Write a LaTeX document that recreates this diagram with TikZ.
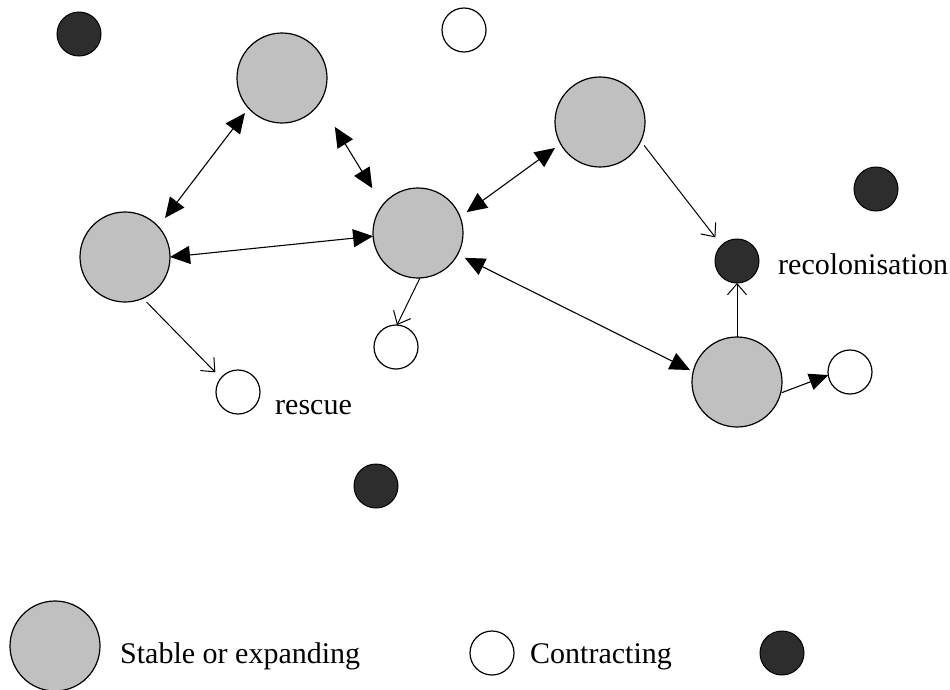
\documentclass[tikz,border=0pt]{standalone}
\usepackage{fontspec}
\setmainfont{Liberation Serif}
\usetikzlibrary{arrows.meta,calc}
\definecolor{popgray}{RGB}{192,192,192}
\definecolor{popdark}{RGB}{45,45,45}
\begin{document}
\begin{tikzpicture}[x=1pt,y=-1pt,
  big/.style={circle,draw=black,line width=1.2pt,fill=popgray,minimum size=90pt,inner sep=0pt},
  small/.style={circle,draw=black,line width=1.2pt,fill=white,minimum size=44pt,inner sep=0pt},
  dark/.style={circle,draw=black,line width=1pt,fill=popdark,minimum size=44pt,inner sep=0pt},
  label/.style={font=\fontsize{30}{33}\selectfont,inner sep=0pt,anchor=base west},
  link/.style={line width=1.1pt,{Triangle[length=20pt,width=18pt]}-{Triangle[length=20pt,width=18pt]}},
  move/.style={line width=1pt,-{Straight Barb[length=11pt,width=19pt,line width=1pt]}},
  push/.style={line width=1.1pt,-{Triangle[length=19pt,width=17pt]}}]
\useasboundingbox (0,0) rectangle (950,689);

% stable or expanding populations
\node[big] (G1) at (282,78) {};
\node[big] (G2) at (125,257) {};
\node[big] (G3) at (418,233) {};
\node[big] (G4) at (600,122) {};
\node[big] (G5) at (737,382) {};

% contracting populations
\node[small] (W1) at (464,30) {};
\node[small] (W2) at (396,347) {};
\node[small] (W3) at (238,392) {};
\node[small] (W4) at (850,372) {};

% empty patches
\node[dark] (D1) at (79,34) {};
\node[dark] (D2) at (876,189) {};
\node[dark] (D3) at (737,261) {};
\node[dark] (D4) at (376,486) {};

% labels
\node[label] (rec) at (778,274) {recolonisation};
\node[label] (res) at (275,414) {rescue};

% dispersal between stable populations
\draw[link] ($(G2)+(-44.3:56)$) -- ($(G1)+(136.6:51)$);
\draw[link] ($(G1)+(42.8:72)$) -- ($(G3)+(-135.6:64)$);
\draw[link] ($(G2)+(0:45)$) -- ($(G3)+(176:45)$);
\draw[link] ($(G3)+(-23.2:53)$) -- ($(G4)+(150:52)$);
\draw[link] ($(G3)+(28:53)$) -- ($(G5)+(-165.7:48.5)$);

% rescue and recolonisation
\draw[move] ($(G4)+(28:50)$) -- ($(D3)+(-132.5:32)$);
\draw[move] ($(G5)+(-90:45)$) -- ($(D3)+(90:22)$);
\draw[move] ($(G2)+(64.4:50)$) -- ($(W3)+(-139:30)$);
\draw[move] ($(G3)+(87.5:45)$) -- ($(W2)+(-87.4:22)$);
\draw[push] ($(G5)+(13.4:46)$) -- ($(W4)+(172:22)$);

% legend
\node[big] (LG) at (55,646) {};
\node[label] (LGt) at (120,663) {Stable or expanding};
\node[small] (LW) at (492,653) {};
\node[label] (LWt) at (530,663) {Contracting};
\node[dark] (LD) at (782,653) {};
\end{tikzpicture}
\end{document}
